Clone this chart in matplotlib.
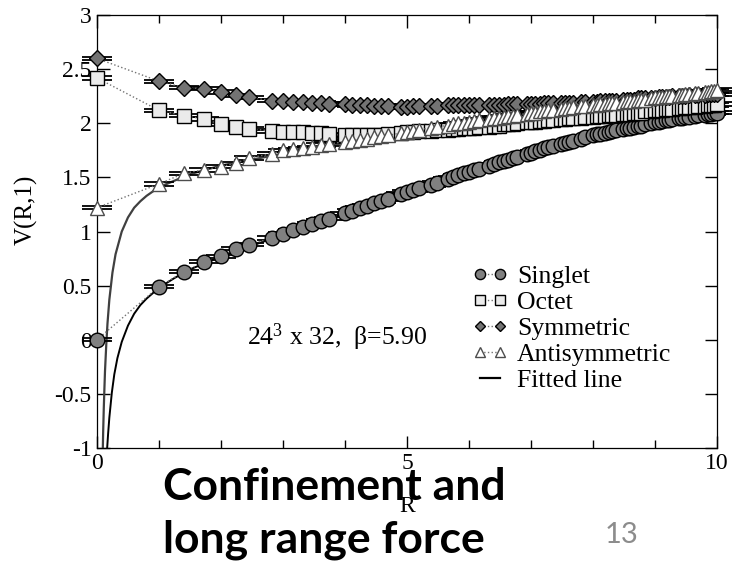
import numpy as np
import matplotlib.pyplot as plt
from matplotlib.lines import Line2D

plt.rcParams['font.family'] = ['Liberation Serif', 'DejaVu Serif']
plt.rcParams['mathtext.fontset'] = 'custom'
plt.rcParams['mathtext.rm'] = 'Liberation Serif'
plt.rcParams['mathtext.it'] = 'Liberation Serif:italic'

# separations R (lattice units)
R = [0.00, 1.00, 1.41, 1.73, 2.00, 2.24, 2.45, 2.83, 3.00, 3.16,
     3.32, 3.46, 3.61, 3.74, 4.00, 4.12, 4.24, 4.36, 4.47, 4.58,
     4.69, 4.90, 5.00, 5.10, 5.20, 5.39, 5.48, 5.66, 5.74, 5.83,
     5.92, 6.00, 6.08, 6.16, 6.32, 6.40, 6.48, 6.56, 6.63, 6.71,
     6.78, 6.93, 7.00, 7.07, 7.14, 7.21, 7.28, 7.35, 7.48, 7.55,
     7.62, 7.68, 7.81, 7.87, 8.00, 8.06, 8.12, 8.19, 8.25, 8.31,
     8.37, 8.49, 8.54, 8.60, 8.66, 8.72, 8.77, 8.83, 8.94, 9.00,
     9.06, 9.11, 9.17, 9.22, 9.27, 9.38, 9.43, 9.49, 9.54, 9.64,
     9.70, 9.80, 9.85, 9.90, 9.95, 10.00]

singlet = [0.00, 0.49, 0.63, 0.72, 0.77, 0.84, 0.88, 0.94, 0.98, 1.01,
           1.04, 1.07, 1.10, 1.12, 1.17, 1.19, 1.22, 1.24, 1.26, 1.28,
           1.30, 1.35, 1.37, 1.38, 1.40, 1.43, 1.45, 1.49, 1.50, 1.52,
           1.54, 1.55, 1.57, 1.58, 1.61, 1.62, 1.64, 1.65, 1.66, 1.68,
           1.69, 1.72, 1.73, 1.74, 1.75, 1.77, 1.78, 1.79, 1.81, 1.82,
           1.83, 1.84, 1.86, 1.87, 1.89, 1.90, 1.90, 1.91, 1.92, 1.93,
           1.94, 1.95, 1.96, 1.96, 1.97, 1.98, 1.98, 1.99, 2.00, 2.01,
           2.01, 2.02, 2.03, 2.03, 2.04, 2.05, 2.05, 2.06, 2.06, 2.07,
           2.08, 2.08, 2.09, 2.09, 2.10, 2.10]

octet = [2.42, 2.12, 2.07, 2.04, 1.99, 1.97, 1.95, 1.93, 1.92, 1.92,
         1.92, 1.91, 1.91, 1.90, 1.89, 1.89, 1.89, 1.89, 1.89, 1.89,
         1.90, 1.91, 1.92, 1.92, 1.93, 1.93, 1.94, 1.94, 1.95, 1.95,
         1.96, 1.96, 1.96, 1.97, 1.97, 1.98, 1.98, 1.99, 1.99, 1.99,
         2.00, 2.01, 2.01, 2.01, 2.02, 2.02, 2.03, 2.03, 2.04, 2.04,
         2.05, 2.05, 2.05, 2.06, 2.06, 2.07, 2.07, 2.07, 2.08, 2.08,
         2.08, 2.09, 2.09, 2.09, 2.10, 2.10, 2.10, 2.11, 2.11, 2.12,
         2.12, 2.12, 2.13, 2.13, 2.13, 2.14, 2.14, 2.15, 2.15, 2.15,
         2.16, 2.16, 2.17, 2.17, 2.17, 2.18]

symmetric = [2.60, 2.39, 2.33, 2.32, 2.29, 2.26, 2.24, 2.21, 2.21, 2.20,
             2.20, 2.19, 2.19, 2.18, 2.18, 2.17, 2.17, 2.17, 2.16, 2.16,
             2.16, 2.15, 2.15, 2.16, 2.16, 2.16, 2.16, 2.17, 2.17, 2.17,
             2.17, 2.17, 2.17, 2.17, 2.17, 2.17, 2.17, 2.17, 2.18, 2.18,
             2.18, 2.18, 2.18, 2.18, 2.18, 2.19, 2.19, 2.19, 2.19, 2.19,
             2.19, 2.19, 2.20, 2.20, 2.20, 2.20, 2.21, 2.21, 2.21, 2.21,
             2.21, 2.22, 2.22, 2.22, 2.22, 2.23, 2.23, 2.23, 2.23, 2.23,
             2.24, 2.24, 2.24, 2.24, 2.25, 2.25, 2.25, 2.25, 2.26, 2.26,
             2.26, 2.26, 2.27, 2.27, 2.27, 2.27]

antisymmetric = [1.22, 1.44, 1.54, 1.57, 1.60, 1.63, 1.68, 1.72, 1.75, 1.76,
                 1.77, 1.78, 1.80, 1.81, 1.83, 1.84, 1.85, 1.86, 1.87, 1.88,
                 1.89, 1.91, 1.92, 1.93, 1.94, 1.96, 1.97, 1.98, 1.99, 2.00,
                 2.00, 2.01, 2.02, 2.03, 2.04, 2.05, 2.05, 2.06, 2.07, 2.07,
                 2.08, 2.09, 2.10, 2.10, 2.11, 2.11, 2.12, 2.12, 2.13, 2.14,
                 2.14, 2.15, 2.16, 2.16, 2.17, 2.17, 2.18, 2.18, 2.19, 2.19,
                 2.19, 2.20, 2.21, 2.21, 2.21, 2.22, 2.22, 2.22, 2.23, 2.24,
                 2.24, 2.24, 2.25, 2.25, 2.25, 2.26, 2.26, 2.27, 2.27, 2.28,
                 2.28, 2.29, 2.29, 2.30, 2.30, 2.31]

err = 0.015

# fitted curves
fit_singlet_r = [0.165, 0.18, 0.2, 0.24, 0.28, 0.33, 0.4, 0.5, 0.6, 0.7, 0.8,
                 1.0, 1.25, 1.5, 2, 2.5, 3, 4, 5, 6, 7, 8, 9, 10]
fit_singlet_v = [-1.0, -0.87, -0.72, -0.49, -0.32, -0.17, -0.02, 0.13, 0.24,
                 0.32, 0.38, 0.48, 0.57, 0.65, 0.77, 0.87, 0.97, 1.17, 1.36,
                 1.55, 1.73, 1.88, 2.0, 2.1]
fit_anti_r = [0.095, 0.1, 0.11, 0.12, 0.13, 0.15, 0.17, 0.2, 0.25, 0.3, 0.4,
              0.5, 0.6, 0.7, 0.8, 1.0, 1.5, 2, 3, 4, 5, 6, 7, 8, 9, 10]
fit_anti_v = [-1.0, -0.86, -0.64, -0.46, -0.29, -0.05, 0.15, 0.37, 0.62, 0.79,
              1.0, 1.13, 1.22, 1.28, 1.33, 1.41, 1.53, 1.61, 1.72, 1.82, 1.90,
              1.99, 2.07, 2.14, 2.22, 2.30]

fig = plt.figure(figsize=(7.4, 5.62), dpi=100)
ax = fig.add_axes([0.131, 0.203, 0.838, 0.770])

# fitted lines
ax.plot(fit_anti_r, fit_anti_v, color='0.25', lw=1.6, zorder=2)
ax.plot(fit_singlet_r, fit_singlet_v, color='black', lw=1.4, zorder=2)

series = [
    (singlet, 'Singlet', 'o', 10.5, '0.5', 'black'),
    (octet, 'Octet', 's', 9.5, '0.92', 'black'),
    (symmetric, 'Symmetric', 'D', 8, '0.45', 'black'),
    (antisymmetric, 'Antisymmetric', '^', 10.5, 'white', '0.3'),
]
handles = []
for vals, name, mk, ms, fc, ec in series:
    ax.errorbar(R, vals, yerr=err, fmt='none', ecolor='black', elinewidth=1,
                capsize=11, capthick=1.3, zorder=3, clip_on=False)
    line, = ax.plot(R, vals, linestyle=':', color='0.45', lw=1,
                    marker=mk, ms=ms, mfc=fc, mec=ec, mew=1.0,
                    zorder=4, clip_on=False, label=name)
    handles.append(line)
handles.append(Line2D([], [], color='black', lw=1.6, label='Fitted line'))

ax.set_xlim(0, 10)
ax.set_ylim(-1, 3)
ax.set_xticks([0, 5, 10])
ax.set_xticklabels(['0', '5', '10'])
ax.set_xticks(range(0, 11), minor=True)
ax.set_yticks(np.arange(-1, 3.01, 0.5))
ax.set_yticklabels(['-1', '-0.5', '0', '0.5', '1', '1.5', '2', '2.5', '3'])
ax.tick_params(which='both', direction='in', top=True, right=True,
               labelsize=17, width=1, pad=4)
ax.tick_params(which='major', length=9)
ax.tick_params(which='minor', length=6)
for sp in ax.spines.values():
    sp.set_linewidth(0.9)

ax.set_ylabel('V(R,1)', fontsize=18)
ax.yaxis.set_label_coords(-0.095, 0.55)
ax.set_xlabel('R', fontsize=17)
ax.xaxis.set_label_coords(0.5, -0.11)

ax.text(2.42, -0.05, '24$^{3}$ x 32,  \u03b2=5.90', fontsize=18.5,
        va='baseline', ha='left')

leg = fig.legend(handles=handles, loc='upper left',
                 bbox_to_anchor=(0.638, 0.529), frameon=False, fontsize=18.5,
                 numpoints=2, markerscale=0.7, handlelength=1.4,
                 handletextpad=0.35, labelspacing=0.12, borderpad=0,
                 borderaxespad=0)

fig.text(163 / 740, 1 - 500 / 562, 'Confinement and', family='Lato',
         weight='bold', fontsize=32, va='baseline', ha='left')
fig.text(163 / 740, 1 - 553 / 562, 'long range force', family='Lato',
         weight='bold', fontsize=32, va='baseline', ha='left')
fig.text(605 / 740, 1 - 543 / 562, '13', family='Lato', color='#8c8c8c',
         fontsize=21, va='baseline', ha='left')

fig.savefig('out.png', dpi=100)
